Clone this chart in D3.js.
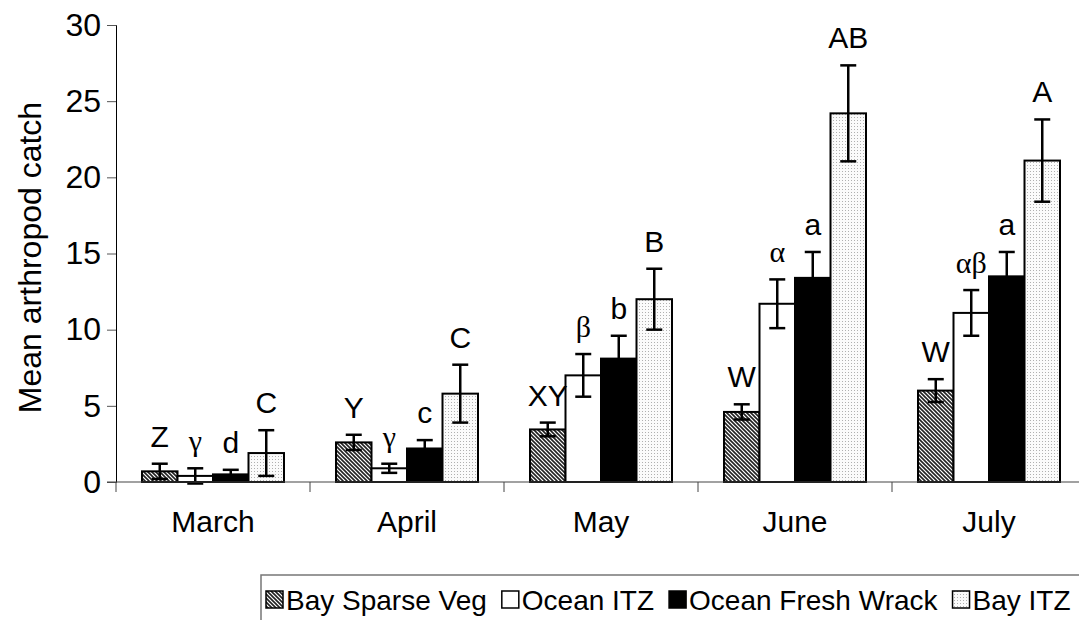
<!DOCTYPE html>
<meta charset="utf-8">
<style>
body { margin: 0; background: #fff; }
text { font-family: Arial, "Liberation Sans", sans-serif; fill: #000; }
.greek { font-family: "Times New Roman", "Liberation Serif", serif; }
</style>
<svg width="1079" height="620"></svg>
<script src="https://d3js.org/d3.v7.min.js"></script>
<script>

var months = ["March", "April", "May", "June", "July"];
var series = ["Bay Sparse Veg", "Ocean ITZ", "Ocean Fresh Wrack", "Bay ITZ"];

var bayVeg      = [0.7, 2.6, 3.45, 4.6, 6.0];
var bayVegErr   = [0.5, 0.5, 0.45, 0.5, 0.75];
var oceanItz    = [0.4, 0.9, 7.0, 11.7, 11.1];
var oceanItzErr = [0.5, 0.3, 1.4, 1.6, 1.5];
var oceanWrack    = [0.5, 2.2, 8.1, 13.4, 13.5];
var oceanWrackErr = [0.3, 0.55, 1.5, 1.7, 1.6];
var bayItz    = [1.9, 5.8, 12.0, 24.2, 21.1];
var bayItzErr = [1.5, 1.9, 2.0, 3.15, 2.7];

var bayVegLab     = ["Z", "Y", "XY", "W", "W"];
var oceanItzLab   = ["γ", "γ", "β", "α", "αβ"];
var oceanWrackLab = ["d", "c", "b", "a", "a"];
var bayItzLab     = ["C", "C", "B", "AB", "A"];

var yTicks = [0, 5, 10, 15, 20, 25, 30];

var svg = d3.select("svg");
var fontSize = 30;

// fills
var defs = svg.append("defs");
var hatch = defs.append("pattern")
    .attr("id", "hatch")
    .attr("patternUnits", "userSpaceOnUse")
    .attr("width", 4).attr("height", 4);
hatch.append("rect").attr("width", 4).attr("height", 4).attr("fill", "#fff");
hatch.append("path")
    .attr("d", "M-1,-1 L5,5 M-1,3 L1,5 M3,-1 L5,1")
    .attr("stroke", "#222").attr("stroke-width", 1.6);

var dots = defs.append("pattern")
    .attr("id", "dots")
    .attr("patternUnits", "userSpaceOnUse")
    .attr("width", 3).attr("height", 3);
dots.append("rect").attr("width", 3).attr("height", 3).attr("fill", "#fbfbfb");
dots.append("rect").attr("width", 1).attr("height", 1).attr("fill", "#b0b0b0");

var fills = ["url(#hatch)", "#fff", "#000", "url(#dots)"];

var data = months.map(function(m, i) {
  return {
    month: m,
    bars: [
      {key: series[0], v: bayVeg[i], e: bayVegErr[i], lab: bayVegLab[i]},
      {key: series[1], v: oceanItz[i], e: oceanItzErr[i], lab: oceanItzLab[i]},
      {key: series[2], v: oceanWrack[i], e: oceanWrackErr[i], lab: oceanWrackLab[i]},
      {key: series[3], v: bayItz[i], e: bayItzErr[i], lab: bayItzLab[i]}
    ]
  };
});

var plotLeft = 116, plotRight = 1086, plotTop = 25, plotBottom = 482;

var x0 = d3.scaleBand().domain(months).range([plotLeft, plotRight]).padding(0);
var x1 = d3.scaleBand().domain(series).range([26, 168]);
var color = d3.scaleOrdinal().domain(series).range(fills);
var y = d3.scaleLinear().domain([0, 30]).range([plotBottom, plotTop]);

// y axis
var yAxis = svg.append("g")
    .attr("transform", "translate(" + plotLeft + ",0)")
    .call(d3.axisLeft(y).tickValues(yTicks).tickSize(9).tickPadding(6));
yAxis.select(".domain").attr("stroke", "#000");
yAxis.selectAll(".tick line").attr("stroke", "#555");
yAxis.selectAll("text")
    .attr("font-size", 32)
    .attr("font-family", "Arial, 'Liberation Sans', sans-serif");

svg.append("text")
    .attr("transform", "translate(30," + ((plotTop + plotBottom) / 2 + 4) + ") rotate(-90)")
    .attr("text-anchor", "middle")
    .attr("dy", "0.35em")
    .attr("font-size", 32)
    .text("Mean arthropod catch");

// bars
var groups = svg.append("g").selectAll("g")
  .data(data)
  .enter().append("g")
    .attr("transform", function(d) { return "translate(" + x0(d.month) + ",0)"; });

groups.selectAll("rect")
  .data(function(d) { return d.bars; })
  .enter().append("rect")
    .attr("x", function(d) { return x1(d.key); })
    .attr("y", function(d) { return y(d.v); })
    .attr("width", x1.bandwidth())
    .attr("height", function(d) { return y(0) - y(d.v); })
    .attr("fill", function(d) { return color(d.key); })
    .attr("stroke", "#000")
    .attr("stroke-width", 2);

// x axis (drawn over the bar bottoms)
svg.append("line")
    .attr("x1", plotLeft - 9).attr("x2", plotRight)
    .attr("y1", plotBottom).attr("y2", plotBottom)
    .attr("stroke", "#444").attr("stroke-width", 1.2);
svg.append("g").selectAll("line")
  .data(months.concat(["end"]))
  .enter().append("line")
    .attr("x1", function(d, i) { return plotLeft + i * x0.bandwidth(); })
    .attr("x2", function(d, i) { return plotLeft + i * x0.bandwidth(); })
    .attr("y1", plotBottom).attr("y2", plotBottom + 10)
    .attr("stroke", "#444");

svg.append("g").selectAll("text")
  .data(months)
  .enter().append("text")
    .attr("x", function(d) { return x0(d) + x0.bandwidth() / 2; })
    .attr("y", 532)
    .attr("text-anchor", "middle")
    .attr("font-size", fontSize)
    .text(function(d) { return d; });

// error bars
var err = groups.selectAll("g.err")
  .data(function(d) { return d.bars; })
  .enter().append("g")
    .attr("class", "err")
    .attr("transform", function(d) { return "translate(" + (x1(d.key) + x1.bandwidth() / 2) + ",0)"; });

err.append("line")
    .attr("y1", function(d) { return y(d.v - d.e); })
    .attr("y2", function(d) { return y(d.v + d.e); })
    .attr("stroke", "#000").attr("stroke-width", 2.5);
err.append("line")
    .attr("x1", -8).attr("x2", 8)
    .attr("y1", function(d) { return y(d.v + d.e); })
    .attr("y2", function(d) { return y(d.v + d.e); })
    .attr("stroke", "#000").attr("stroke-width", 2.5);
err.append("line")
    .attr("x1", -8).attr("x2", 8)
    .attr("y1", function(d) { return y(d.v - d.e); })
    .attr("y2", function(d) { return y(d.v - d.e); })
    .attr("stroke", "#000").attr("stroke-width", 2.5);

// significance letters
err.append("text")
    .attr("class", function(d) { return /[α-ω]/.test(d.lab) ? "greek" : null; })
    .attr("y", function(d) { return y(d.v + d.e) - 17; })
    .attr("text-anchor", "middle")
    .attr("font-size", fontSize)
    .text(function(d) { return d.lab; });

// legend
var legend = svg.append("g");
legend.append("path")
    .attr("d", "M1079,575 H261 V620")
    .attr("fill", "none")
    .attr("stroke", "#777")
    .attr("stroke-width", 1.5);

var lx = 266;
series.forEach(function(s) {
  legend.append("rect")
      .attr("x", lx).attr("y", 591)
      .attr("width", 17).attr("height", 17)
      .attr("fill", color(s))
      .attr("stroke", "#000").attr("stroke-width", 1.5);
  var t = legend.append("text")
      .attr("x", lx + 20).attr("y", 610)
      .attr("font-size", 28)
      .text(s);
  lx += 20 + t.node().getComputedTextLength() + 15;
});

</script>
